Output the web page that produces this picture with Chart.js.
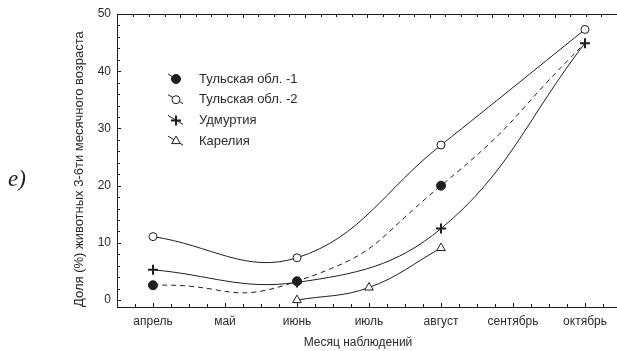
<!DOCTYPE html>
<html>
<head>
<meta charset="utf-8">
<script src="https://cdn.jsdelivr.net/npm/chart.js@4/dist/chart.umd.min.js"></script>
<style>
  body { margin: 0; background: #fff; }
  #wrap { width: 617px; height: 351px; overflow: hidden; }
</style>
</head>
<body>
<div id="wrap"><canvas id="chart" width="630" height="351"></canvas></div>
<script>
// months of observation
const months = ['апрель', 'май', 'июнь', 'июль', 'август', 'сентябрь', 'октябрь'];

// share (%) of 3-6 month old animals
const tula1 = [2.6, null, 3.3, null, 20.0, null, 44.9];
const tula2 = [11.1, null, 7.4, null, 27.1, null, 47.3];
const udmurtia = [5.3, null, 3.1, null, 12.5, null, 44.9];
const karelia = [null, null, 0.0, 2.2, 9.1, null, null];

const seriesNames = ['Тульская обл. -1', 'Тульская обл. -2', 'Удмуртия', 'Карелия'];
const yTicks = [0, 10, 20, 30, 40, 50];

const ink = '#1e1e1e';
const textColor = '#2b2b2b';
const font = {family: 'Arial, "Liberation Sans", sans-serif', size: 12};

function dataset(label, data, extra) {
    return Object.assign({
        label: label,
        data: data,
        spanGaps: true,
        borderColor: ink,
        borderWidth: 1,
        tension: 0.4,
        pointBorderColor: ink,
        pointBackgroundColor: ink,
        pointBorderWidth: 1,
        fill: false,
    }, extra);
}

// ticks, frame, legend and side texts drawn on top of the chart
const decorations = {
    id: 'decorations',
    afterDraw(chart) {
        const ctx = chart.ctx;
        const area = chart.chartArea;
        const x = chart.scales.x;
        const y = chart.scales.y;
        ctx.save();
        ctx.strokeStyle = ink;
        ctx.lineWidth = 1;

        // top frame line
        ctx.beginPath();
        ctx.moveTo(area.left, area.top + 0.5);
        ctx.lineTo(area.right, area.top + 0.5);
        ctx.stroke();

        // inner y ticks every 2 units
        for (let v = 0; v <= 50; v += 2) {
            const py = Math.round(y.getPixelForValue(v)) + 0.5;
            const len = v % 10 === 0 ? 4 : 3;
            ctx.beginPath();
            ctx.moveTo(area.left, py);
            ctx.lineTo(area.left + len, py);
            ctx.stroke();
        }

        // inner x ticks every quarter month
        for (let q = -2; q <= 26; q++) {
            const px = Math.round(x.getPixelForValue(q / 4)) + 0.5;
            const len = q % 4 === 0 ? 4 : 3;
            ctx.beginPath();
            ctx.moveTo(px, area.bottom);
            ctx.lineTo(px, area.bottom - len);
            ctx.stroke();
        }

        // ticks hanging from the top frame
        for (let i = 0; i < 32; i++) {
            const px = Math.round(area.left + 16.3 + i * 15.6) + 0.5;
            if (px > area.right) break;
            const len = i % 4 === 3 ? 4 : 3;
            ctx.beginPath();
            ctx.moveTo(px, area.top);
            ctx.lineTo(px, area.top + len);
            ctx.stroke();
        }

        // legend inside the plot
        ctx.font = '13px Arial, "Liberation Sans", sans-serif';
        ctx.textBaseline = 'middle';
        ctx.textAlign = 'left';
        chart.data.datasets.forEach((ds, i) => {
            const my = 79 + i * 20.7;
            const mx = 176;
            ctx.strokeStyle = ink;
            ctx.setLineDash(ds.borderDash || []);
            ctx.beginPath();
            ctx.moveTo(mx - 8, my - 5);
            ctx.lineTo(mx + 7, my + 4);
            ctx.stroke();
            ctx.setLineDash([]);
            ctx.fillStyle = ds.pointBackgroundColor;
            ctx.strokeStyle = ink;
            ctx.lineWidth = ds.pointBorderWidth;
            Chart.helpers.drawPoint(ctx, {
                pointStyle: ds.pointStyle,
                radius: ds.legendRadius || ds.pointRadius,
                rotation: 0,
                borderWidth: ds.pointBorderWidth,
            }, mx, my);
            ctx.lineWidth = 1;
            ctx.fillStyle = textColor;
            ctx.fillText(ds.label, 199, my);
        });

        // x axis title
        ctx.font = '12px Arial, "Liberation Sans", sans-serif';
        ctx.textAlign = 'center';
        ctx.fillStyle = textColor;
        ctx.fillText('Месяц наблюдений', 358, 343);

        // panel letter
        ctx.font = 'italic 23px "Liberation Serif", "DejaVu Serif", serif';
        ctx.textAlign = 'left';
        ctx.textBaseline = 'alphabetic';
        ctx.fillStyle = '#222';
        ctx.fillText('e)', 8, 186);
        ctx.restore();
    }
};

const data = {
    labels: months,
    datasets: [
        dataset(seriesNames[0], tula1, {
            borderDash: [5, 4],
            pointStyle: 'circle',
            // the October marker sits under the Udmurtia cross in the source
            pointRadius: tula1.map((v, i) => i === months.length - 1 ? 0 : 4.5),
            legendRadius: 4.5,
            tension: 0.55,
            order: 1,
        }),
        dataset(seriesNames[1], tula2, {
            pointStyle: 'circle',
            pointRadius: 4,
            pointBackgroundColor: '#fff',
            order: 2,
        }),
        dataset(seriesNames[2], udmurtia, {
            pointStyle: 'cross',
            pointRadius: 5,
            pointBorderWidth: 2,
            order: 0,
        }),
        dataset(seriesNames[3], karelia, {
            pointStyle: 'triangle',
            pointRadius: 5,
            pointBackgroundColor: '#fff',
            order: 3,
        }),
    ],
};

const options = {
    responsive: false,
    animation: false,
    layout: {padding: {top: 14, right: 9, left: 0, bottom: 0}},
    plugins: {
        legend: {display: false},
        tooltip: {enabled: false},
    },
    scales: {
        x: {
            type: 'category',
            offset: true,
            grid: {display: false, drawTicks: false},
            border: {display: true, color: ink, width: 1},
            ticks: {color: textColor, font: font, padding: 7, maxRotation: 0, autoSkip: false},
            afterFit: (scale) => { scale.height = 44; },
        },
        y: {
            min: -1.2,
            max: 50,
            grid: {display: false, drawTicks: false},
            border: {display: true, color: ink, width: 1},
            ticks: {color: textColor, font: font, padding: 6, stepSize: 10},
            afterBuildTicks: (scale) => {
                scale.ticks = yTicks.map(v => ({value: v}));
            },
            afterFit: (scale) => { scale.width = 117; },
            title: {
                display: true,
                text: 'Доля (%) животных 3-6ти месячного возраста',
                align: 'start',
                color: textColor,
                font: {family: font.family, size: 13},
                padding: {top: 72, bottom: 0},
            },
        },
    },
};

new Chart(document.getElementById('chart'), {
    type: 'line', data, options, plugins: [decorations],
});
</script>
</body>
</html>
